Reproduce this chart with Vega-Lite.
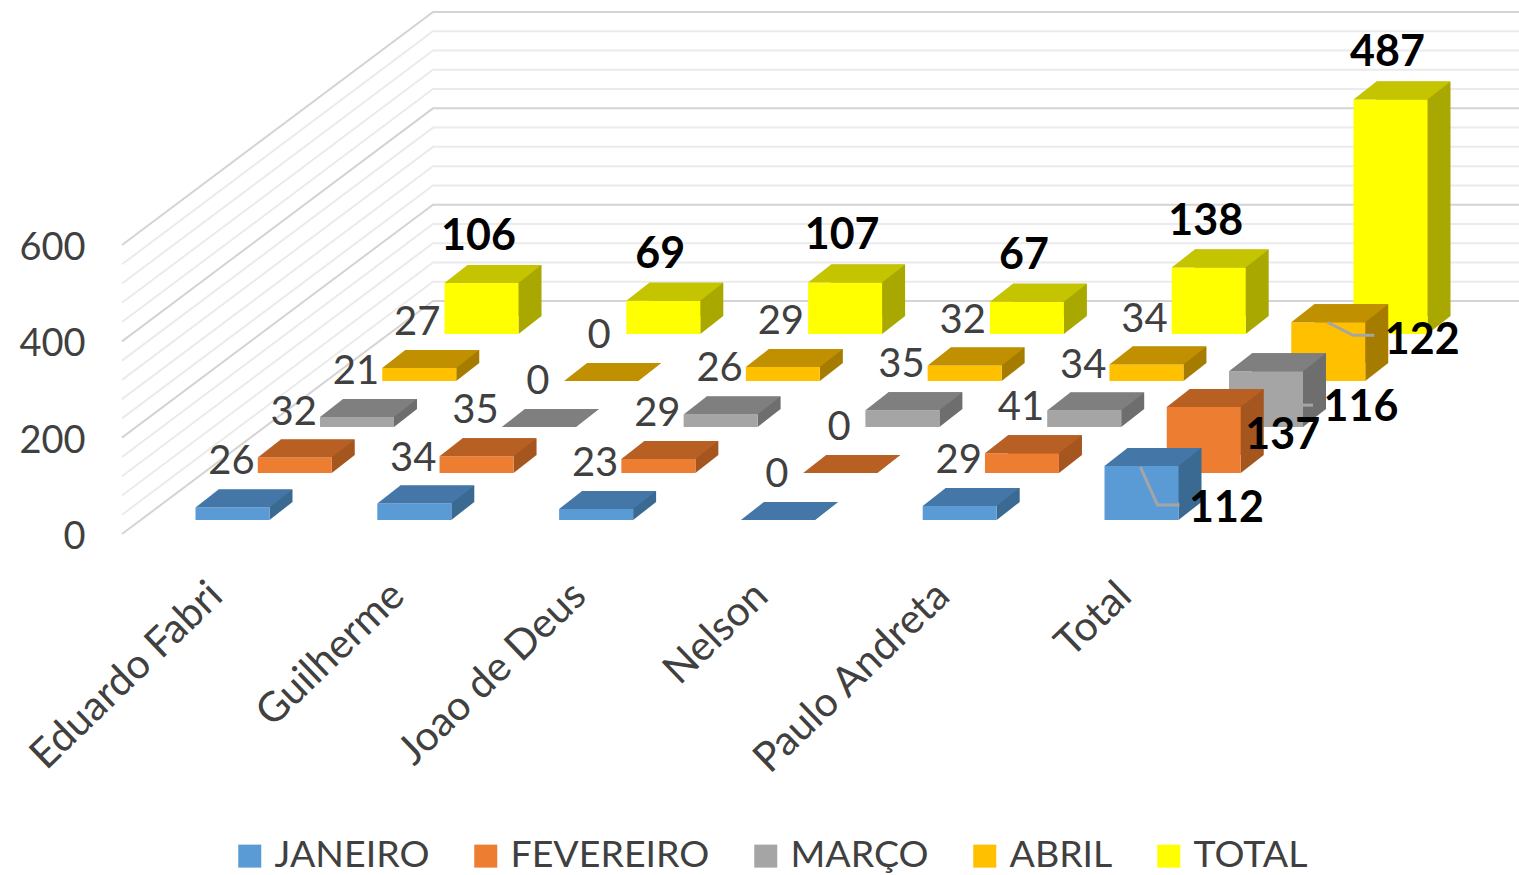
{"$schema":"https://vega.github.io/schema/vega-lite/v6.json","width":1519,"height":875,"autosize":"none","padding":0,"background":"white","config":{"view":{"stroke":null},"font":"Lato","text":{"font":"Lato"}},
"datasets":{"d":[
{"category":"Eduardo Fabri","series":"JANEIRO","value":26},{"category":"Eduardo Fabri","series":"FEVEREIRO","value":32},{"category":"Eduardo Fabri","series":"MARÇO","value":21},{"category":"Eduardo Fabri","series":"ABRIL","value":27},{"category":"Eduardo Fabri","series":"TOTAL","value":106},
{"category":"Guilherme","series":"JANEIRO","value":34},{"category":"Guilherme","series":"FEVEREIRO","value":35},{"category":"Guilherme","series":"MARÇO","value":0},{"category":"Guilherme","series":"ABRIL","value":0},{"category":"Guilherme","series":"TOTAL","value":69},
{"category":"Joao de Deus","series":"JANEIRO","value":23},{"category":"Joao de Deus","series":"FEVEREIRO","value":29},{"category":"Joao de Deus","series":"MARÇO","value":26},{"category":"Joao de Deus","series":"ABRIL","value":29},{"category":"Joao de Deus","series":"TOTAL","value":107},
{"category":"Nelson","series":"JANEIRO","value":0},{"category":"Nelson","series":"FEVEREIRO","value":0},{"category":"Nelson","series":"MARÇO","value":35},{"category":"Nelson","series":"ABRIL","value":32},{"category":"Nelson","series":"TOTAL","value":67},
{"category":"Paulo Andreta","series":"JANEIRO","value":29},{"category":"Paulo Andreta","series":"FEVEREIRO","value":41},{"category":"Paulo Andreta","series":"MARÇO","value":34},{"category":"Paulo Andreta","series":"ABRIL","value":34},{"category":"Paulo Andreta","series":"TOTAL","value":138},
{"category":"Total","series":"JANEIRO","value":112},{"category":"Total","series":"FEVEREIRO","value":137},{"category":"Total","series":"MARÇO","value":116},{"category":"Total","series":"ABRIL","value":122},{"category":"Total","series":"TOTAL","value":487}
]},
"data":{"name":"d"},
"encoding":{
"x":{"field":"category","type":"nominal","title":null,"scale":{"type":"band","domain":["Eduardo Fabri","Guilherme","Joao de Deus","Nelson","Paulo Andreta","Total"],"range":[141.6,1232.4],"paddingInner":0,"paddingOuter":0},"axis":{"orient":"bottom","offset":-308,"domain":false,"ticks":false,"labelAngle":-44,"labelFontSize":41,"labelColor":"#404040","labelFont":"Lato","labelPadding":8,"labelOffset":-30,"labelOverlap":false,"labelBound":false,"labelFlush":false,"labelLimit":0}}
},
"resolve":{"scale":{"y":"independent"}},
"layer":[
{"data":{"values":[{"tick":0,"kind":"major"},{"tick":40,"kind":"minor"},{"tick":80,"kind":"minor"},{"tick":120,"kind":"minor"},{"tick":160,"kind":"minor"},{"tick":200,"kind":"major"},{"tick":240,"kind":"minor"},{"tick":280,"kind":"minor"},{"tick":320,"kind":"minor"},{"tick":360,"kind":"minor"},{"tick":400,"kind":"major"},{"tick":440,"kind":"minor"},{"tick":480,"kind":"minor"},{"tick":520,"kind":"minor"},{"tick":560,"kind":"minor"},{"tick":600,"kind":"major"}]},
"mark":{"type":"point","shape":"M-110.5,0 L200.5,-233 L1286.5,-233","size":4,"filled":false,"strokeWidth":2,"opacity":1},
"encoding":{"x":{"datum":"Eduardo Fabri"},"y":{"field":"tick","type":"quantitative","title":null,"scale":{"domain":[0,600],"range":[534,245],"nice":false},"axis":{"orient":"left","offset":-88,"values":[0,200,400,600],"domain":false,"ticks":false,"grid":false,"labelFontSize":38,"labelColor":"#404040","labelFont":"Lato","labelPadding":3,"labelOffset":3.5}},"stroke":{"field":"kind","type":"nominal","legend":null,"scale":{"domain":["major","minor"],"range":["#d4d4d4","#ebebeb"]}}}},
{"encoding":{"xOffset":{"field":"series","type":"nominal","scale":{"type":"point","padding":0,"domain":["JANEIRO","FEVEREIRO","MARÇO","ABRIL","TOTAL"],"range":[90.9,339.9]}}},
"resolve":{"scale":{"xOffset":"independent","y":"independent"}},
"layer":[
{"transform":[{"filter":"datum.series==='TOTAL'"}],"mark":{"type":"bar","width":74,"color":"#A8A800"},"encoding":{"xOffset":{"field":"series","type":"nominal","scale":{"type":"point","padding":0,"domain":["JANEIRO","FEVEREIRO","MARÇO","ABRIL","TOTAL"],"range":[113.9,362.9]}},"y":{"field":"value","type":"quantitative","axis":null,"scale":{"domain":[0,600],"range":[316,27],"nice":false}}}},
{"transform":[{"filter":"datum.series==='TOTAL'"}],"mark":{"type":"point","shape":"M37,0 L60,-18 L37,-18 Z","size":4,"filled":true,"opacity":1,"strokeWidth":0,"color":"#A8A800"},"encoding":{"y":{"datum":0,"axis":null,"scale":{"domain":[0,600],"range":[334,45],"nice":false}}}},
{"transform":[{"filter":"datum.series==='TOTAL'"}],"mark":{"type":"bar","width":74},"encoding":{"y":{"field":"value","type":"quantitative","stack":null,"axis":null,"scale":{"domain":[0,600],"range":[334,45],"nice":false}},"color":{"field":"series","type":"nominal","scale":{"domain":["JANEIRO","FEVEREIRO","MARÇO","ABRIL","TOTAL"],"range":["#5B9BD5","#ED7D31","#A5A5A5","#FFC000","#FFFF00"]},"legend":{"title":null,"orient":"none","legendX":231,"legendY":837,"direction":"horizontal","columns":5,"symbolType":"square","symbolSize":529,"symbolStrokeWidth":0,"symbolOpacity":1,"labelFontSize":37.5,"labelColor":"#404040","labelFont":"Lato","labelLimit":0,"columnPadding":37,"labelOffset":6}}}},
{"transform":[{"filter":"datum.series==='TOTAL'"}],"mark":{"type":"point","shape":"M-37,0 L37,0 L60,-18 L-14,-18 Z","size":4,"filled":true,"opacity":1,"strokeWidth":0,"color":"#C4C400"},"encoding":{"y":{"field":"value","type":"quantitative","axis":null,"scale":{"domain":[0,600],"range":[334,45],"nice":false}}}},
{"transform":[{"filter":"datum.series==='ABRIL'"}],"mark":{"type":"bar","width":74,"color":"#A67C00"},"encoding":{"xOffset":{"field":"series","type":"nominal","scale":{"type":"point","padding":0,"domain":["JANEIRO","FEVEREIRO","MARÇO","ABRIL","TOTAL"],"range":[113.9,362.9]}},"y":{"field":"value","type":"quantitative","axis":null,"scale":{"domain":[0,600],"range":[363,74],"nice":false}}}},
{"transform":[{"filter":"datum.series==='ABRIL'"}],"mark":{"type":"point","shape":"M37,0 L60,-18 L37,-18 Z","size":4,"filled":true,"opacity":1,"strokeWidth":0,"color":"#A67C00"},"encoding":{"y":{"datum":0,"axis":null,"scale":{"domain":[0,600],"range":[381,92],"nice":false}}}},
{"transform":[{"filter":"datum.series==='ABRIL'"}],"mark":{"type":"bar","width":74},"encoding":{"y":{"field":"value","type":"quantitative","stack":null,"axis":null,"scale":{"domain":[0,600],"range":[381,92],"nice":false}},"color":{"field":"series","type":"nominal"}}},
{"transform":[{"filter":"datum.series==='ABRIL'"}],"mark":{"type":"point","shape":"M-37,0 L37,0 L60,-18 L-14,-18 Z","size":4,"filled":true,"opacity":1,"strokeWidth":0,"color":"#C09000"},"encoding":{"y":{"field":"value","type":"quantitative","axis":null,"scale":{"domain":[0,600],"range":[381,92],"nice":false}}}},
{"transform":[{"filter":"datum.series==='MARÇO'"}],"mark":{"type":"bar","width":74,"color":"#6E6E6E"},"encoding":{"xOffset":{"field":"series","type":"nominal","scale":{"type":"point","padding":0,"domain":["JANEIRO","FEVEREIRO","MARÇO","ABRIL","TOTAL"],"range":[113.9,362.9]}},"y":{"field":"value","type":"quantitative","axis":null,"scale":{"domain":[0,600],"range":[409,120],"nice":false}}}},
{"transform":[{"filter":"datum.series==='MARÇO'"}],"mark":{"type":"point","shape":"M37,0 L60,-18 L37,-18 Z","size":4,"filled":true,"opacity":1,"strokeWidth":0,"color":"#6E6E6E"},"encoding":{"y":{"datum":0,"axis":null,"scale":{"domain":[0,600],"range":[427,138],"nice":false}}}},
{"transform":[{"filter":"datum.series==='MARÇO'"}],"mark":{"type":"bar","width":74},"encoding":{"y":{"field":"value","type":"quantitative","stack":null,"axis":null,"scale":{"domain":[0,600],"range":[427,138],"nice":false}},"color":{"field":"series","type":"nominal"}}},
{"transform":[{"filter":"datum.series==='MARÇO'"}],"mark":{"type":"point","shape":"M-37,0 L37,0 L60,-18 L-14,-18 Z","size":4,"filled":true,"opacity":1,"strokeWidth":0,"color":"#7F7F7F"},"encoding":{"y":{"field":"value","type":"quantitative","axis":null,"scale":{"domain":[0,600],"range":[427,138],"nice":false}}}},
{"transform":[{"filter":"datum.series==='FEVEREIRO'"}],"mark":{"type":"bar","width":74,"color":"#A5561F"},"encoding":{"xOffset":{"field":"series","type":"nominal","scale":{"type":"point","padding":0,"domain":["JANEIRO","FEVEREIRO","MARÇO","ABRIL","TOTAL"],"range":[113.9,362.9]}},"y":{"field":"value","type":"quantitative","axis":null,"scale":{"domain":[0,600],"range":[455,166],"nice":false}}}},
{"transform":[{"filter":"datum.series==='FEVEREIRO'"}],"mark":{"type":"point","shape":"M37,0 L60,-18 L37,-18 Z","size":4,"filled":true,"opacity":1,"strokeWidth":0,"color":"#A5561F"},"encoding":{"y":{"datum":0,"axis":null,"scale":{"domain":[0,600],"range":[473,184],"nice":false}}}},
{"transform":[{"filter":"datum.series==='FEVEREIRO'"}],"mark":{"type":"bar","width":74},"encoding":{"y":{"field":"value","type":"quantitative","stack":null,"axis":null,"scale":{"domain":[0,600],"range":[473,184],"nice":false}},"color":{"field":"series","type":"nominal"}}},
{"transform":[{"filter":"datum.series==='FEVEREIRO'"}],"mark":{"type":"point","shape":"M-37,0 L37,0 L60,-18 L-14,-18 Z","size":4,"filled":true,"opacity":1,"strokeWidth":0,"color":"#B85F24"},"encoding":{"y":{"field":"value","type":"quantitative","axis":null,"scale":{"domain":[0,600],"range":[473,184],"nice":false}}}},
{"transform":[{"filter":"datum.series==='JANEIRO'"}],"mark":{"type":"bar","width":74,"color":"#3A6A92"},"encoding":{"xOffset":{"field":"series","type":"nominal","scale":{"type":"point","padding":0,"domain":["JANEIRO","FEVEREIRO","MARÇO","ABRIL","TOTAL"],"range":[113.9,362.9]}},"y":{"field":"value","type":"quantitative","axis":null,"scale":{"domain":[0,600],"range":[502,213],"nice":false}}}},
{"transform":[{"filter":"datum.series==='JANEIRO'"}],"mark":{"type":"point","shape":"M37,0 L60,-18 L37,-18 Z","size":4,"filled":true,"opacity":1,"strokeWidth":0,"color":"#3A6A92"},"encoding":{"y":{"datum":0,"axis":null,"scale":{"domain":[0,600],"range":[520,231],"nice":false}}}},
{"transform":[{"filter":"datum.series==='JANEIRO'"}],"mark":{"type":"bar","width":74},"encoding":{"y":{"field":"value","type":"quantitative","stack":null,"axis":null,"scale":{"domain":[0,600],"range":[520,231],"nice":false}},"color":{"field":"series","type":"nominal"}}},
{"transform":[{"filter":"datum.series==='JANEIRO'"}],"mark":{"type":"point","shape":"M-37,0 L37,0 L60,-18 L-14,-18 Z","size":4,"filled":true,"opacity":1,"strokeWidth":0,"color":"#4477A8"},"encoding":{"y":{"field":"value","type":"quantitative","axis":null,"scale":{"domain":[0,600],"range":[520,231],"nice":false}}}},
{"transform":[{"filter":"datum.category==='Total' && datum.series==='JANEIRO'"}],"mark":{"type":"point","filled":false,"size":4,"opacity":1,"strokeWidth":3,"color":"#A5A5A5","shape":"M-1,1 L16,39 L38,39"},"encoding":{"y":{"field":"value","type":"quantitative","axis":null,"scale":{"domain":[0,600],"range":[520,231],"nice":false}}}},
{"transform":[{"filter":"datum.category==='Total' && datum.series==='MARÇO'"}],"mark":{"type":"point","filled":false,"size":4,"opacity":1,"strokeWidth":3,"color":"#A5A5A5","shape":"M34,34 L47,34"},"encoding":{"y":{"field":"value","type":"quantitative","axis":null,"scale":{"domain":[0,600],"range":[427,138],"nice":false}}}},
{"transform":[{"filter":"datum.category==='Total' && datum.series==='ABRIL'"}],"mark":{"type":"point","filled":false,"size":4,"opacity":1,"strokeWidth":3,"color":"#A5A5A5","shape":"M-1,0 L25,13 L46,13"},"encoding":{"y":{"field":"value","type":"quantitative","axis":null,"scale":{"domain":[0,600],"range":[381,92],"nice":false}}}},
{"transform":[{"filter":"datum.category!=='Total' && datum.series==='JANEIRO'"}],"mark":{"type":"text","fontSize":40,"color":"#404040","baseline":"middle","align":"center","dx":-1,"dy":-45},"encoding":{"text":{"field":"value","type":"quantitative"},"y":{"field":"value","type":"quantitative","axis":null,"scale":{"domain":[0,600],"range":[520,231],"nice":false}}}},
{"transform":[{"filter":"datum.category!=='Total' && datum.series==='FEVEREIRO'"}],"mark":{"type":"text","fontSize":40,"color":"#404040","baseline":"middle","align":"center","dx":-1,"dy":-45},"encoding":{"text":{"field":"value","type":"quantitative"},"y":{"field":"value","type":"quantitative","axis":null,"scale":{"domain":[0,600],"range":[473,184],"nice":false}}}},
{"transform":[{"filter":"datum.category!=='Total' && datum.series==='MARÇO'"}],"mark":{"type":"text","fontSize":40,"color":"#404040","baseline":"middle","align":"center","dx":-1,"dy":-45},"encoding":{"text":{"field":"value","type":"quantitative"},"y":{"field":"value","type":"quantitative","axis":null,"scale":{"domain":[0,600],"range":[427,138],"nice":false}}}},
{"transform":[{"filter":"datum.category!=='Total' && datum.series==='ABRIL'"}],"mark":{"type":"text","fontSize":40,"color":"#404040","baseline":"middle","align":"center","dx":-2,"dy":-45},"encoding":{"text":{"field":"value","type":"quantitative"},"y":{"field":"value","type":"quantitative","axis":null,"scale":{"domain":[0,600],"range":[381,92],"nice":false}}}},
{"transform":[{"filter":"datum.series==='TOTAL'"}],"mark":{"type":"text","fontSize":43,"fontWeight":"bold","color":"#000000","baseline":"middle","align":"center","dx":-3,"dy":-46},"encoding":{"text":{"field":"value","type":"quantitative"},"y":{"field":"value","type":"quantitative","axis":null,"scale":{"domain":[0,600],"range":[334,45],"nice":false}}}},
{"transform":[{"filter":"datum.category==='Total' && datum.series==='JANEIRO'"}],"mark":{"type":"text","fontSize":43,"fontWeight":"bold","color":"#000000","baseline":"middle","align":"center","dx":85,"dy":43},"encoding":{"text":{"field":"value","type":"quantitative"},"y":{"field":"value","type":"quantitative","axis":null,"scale":{"domain":[0,600],"range":[520,231],"nice":false}}}},
{"transform":[{"filter":"datum.category==='Total' && datum.series==='FEVEREIRO'"}],"mark":{"type":"text","fontSize":43,"fontWeight":"bold","color":"#000000","baseline":"middle","align":"center","dx":79,"dy":29},"encoding":{"text":{"field":"value","type":"quantitative"},"y":{"field":"value","type":"quantitative","axis":null,"scale":{"domain":[0,600],"range":[473,184],"nice":false}}}},
{"transform":[{"filter":"datum.category==='Total' && datum.series==='MARÇO'"}],"mark":{"type":"text","fontSize":43,"fontWeight":"bold","color":"#000000","baseline":"middle","align":"center","dx":95,"dy":37},"encoding":{"text":{"field":"value","type":"quantitative"},"y":{"field":"value","type":"quantitative","axis":null,"scale":{"domain":[0,600],"range":[427,138],"nice":false}}}},
{"transform":[{"filter":"datum.category==='Total' && datum.series==='ABRIL'"}],"mark":{"type":"text","fontSize":43,"fontWeight":"bold","color":"#000000","baseline":"middle","align":"center","dx":94,"dy":19},"encoding":{"text":{"field":"value","type":"quantitative"},"y":{"field":"value","type":"quantitative","axis":null,"scale":{"domain":[0,600],"range":[381,92],"nice":false}}}}
]}
]}
